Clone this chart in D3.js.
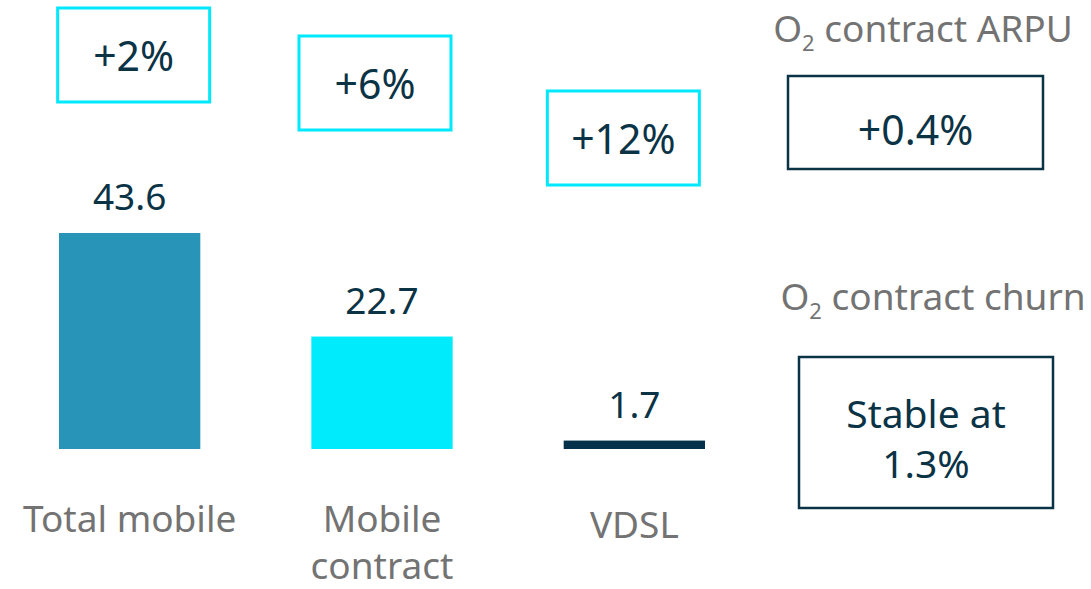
<!DOCTYPE html>
<meta charset="utf-8">

<head>
    <title>O2 customer growth</title>
    <script type="text/javascript" src="https://cdn.jsdelivr.net/npm/d3@7"></script>
    <style>
        body {
            margin: 0;
            background: #ffffff;
        }

        text {
            font-family: "Noto Sans", "Open Sans", sans-serif;
        }

        .navy {
            fill: #0b3346;
        }

        .grey {
            fill: #737373;
        }
    </style>
</head>

<body>
    <div id="chart"></div>

    <script>
        // data
        var categories = ["Total mobile", "Mobile contract", "VDSL"];
        var categoryLines = [["Total mobile"], ["Mobile", "contract"], ["VDSL"]];
        var values = [43.6, 22.7, 1.7];
        var growthLabels = ["+2%", "+6%", "+12%"];
        var barColors = ["#2894b8", "#00ebfc", "#03304a"];

        var kpiTitles = ["contract ARPU", "contract churn"];
        var kpiValues = [["+0.4%"], ["Stable at", "1.3%"]];

        // layout
        var width = 1091;
        var height = 589;
        var baseline = 449;
        var boxTop = [8, 36, 91];        // staggered growth boxes
        var boxShift = [4, -7, -11];
        var boxW = 152, boxH = 94;

        var svg = d3.select("#chart")
            .append("svg")
            .attr("width", width)
            .attr("height", height);

        var x = d3.scaleBand()
            .domain(categories)
            .range([59, 705])
            .paddingInner(0.44)
            .paddingOuter(0);

        var y = d3.scaleLinear()
            .domain([0, 43.6])
            .range([baseline, 233]);

        // bars
        svg.selectAll(".bar")
            .data(values)
            .enter()
            .append("rect")
            .attr("class", "bar")
            .attr("x", function (d, i) { return x(categories[i]); })
            .attr("y", function (d) { return y(d); })
            .attr("width", x.bandwidth())
            .attr("height", function (d) { return baseline - y(d); })
            .attr("fill", function (d, i) { return barColors[i]; });

        // value labels
        svg.selectAll(".val")
            .data(values)
            .enter()
            .append("text")
            .attr("class", "val navy")
            .attr("x", function (d, i) { return x(categories[i]) + x.bandwidth() / 2; })
            .attr("y", function (d) { return y(d) - 23; })
            .attr("text-anchor", "middle")
            .style("font-size", "37px")
            .text(function (d) { return d3.format(".1f")(d); });

        // growth boxes
        var growth = svg.selectAll(".growth")
            .data(growthLabels)
            .enter()
            .append("g")
            .attr("class", "growth")
            .attr("transform", function (d, i) {
                var cx = x(categories[i]) + x.bandwidth() / 2 + boxShift[i];
                return "translate(" + cx + "," + boxTop[i] + ")";
            });

        growth.append("rect")
            .attr("x", -boxW / 2)
            .attr("y", 0)
            .attr("width", boxW)
            .attr("height", boxH)
            .attr("fill", "none")
            .attr("stroke", "#00e8fc")
            .attr("stroke-width", 3);

        growth.append("text")
            .attr("class", "navy")
            .attr("y", 63)
            .attr("text-anchor", "middle")
            .style("font-size", "41px")
            .text(function (d) { return d; });

        // category labels
        svg.selectAll(".cat")
            .data(categoryLines)
            .enter()
            .append("text")
            .attr("class", "cat grey")
            .attr("x", function (d, i) { return x(categories[i]) + x.bandwidth() / 2; })
            .attr("y", function (d) { return d.length == 1 && d[0] == "VDSL" ? 538 : 532; })
            .attr("text-anchor", "middle")
            .style("font-size", "37px")
            .selectAll("tspan")
            .data(function (d) { return d; })
            .enter()
            .append("tspan")
            .attr("x", function () { return d3.select(this.parentNode).attr("x"); })
            .attr("dy", function (d, i) { return i == 0 ? 0 : 47; })
            .text(function (d) { return d; });

        // KPI panels on the right
        var kpiTitleY = [42, 310];
        var kpiTitleX = [923, 933];
        var kpiBox = [
            { x: 788, y: 76, w: 255, h: 93 },
            { x: 799, y: 357, w: 254, h: 151 }
        ];
        var kpiTextY = [145, 428];
        var kpiFont = [41, 39];

        kpiTitles.forEach(function (t, i) {
            var title = svg.append("text")
                .attr("class", "grey")
                .attr("x", kpiTitleX[i])
                .attr("y", kpiTitleY[i])
                .attr("text-anchor", "middle")
                .style("font-size", "37px");
            title.append("tspan").text("O");
            title.append("tspan")
                .attr("dy", 9)
                .style("font-size", "22px")
                .text("2");
            title.append("tspan")
                .attr("dy", -9)
                .text(" " + t);

            var b = kpiBox[i];
            svg.append("rect")
                .attr("x", b.x)
                .attr("y", b.y)
                .attr("width", b.w)
                .attr("height", b.h)
                .attr("fill", "none")
                .attr("stroke", "#0b3346")
                .attr("stroke-width", 2.5);

            svg.append("text")
                .attr("class", "navy")
                .attr("x", b.x + b.w / 2)
                .attr("y", kpiTextY[i])
                .attr("text-anchor", "middle")
                .style("font-size", kpiFont[i] + "px")
                .selectAll("tspan")
                .data(kpiValues[i])
                .enter()
                .append("tspan")
                .attr("x", b.x + b.w / 2)
                .attr("dy", function (d, j) { return j == 0 ? 0 : 50; })
                .text(function (d) { return d; });
        });
    </script>
</body>

</html>
